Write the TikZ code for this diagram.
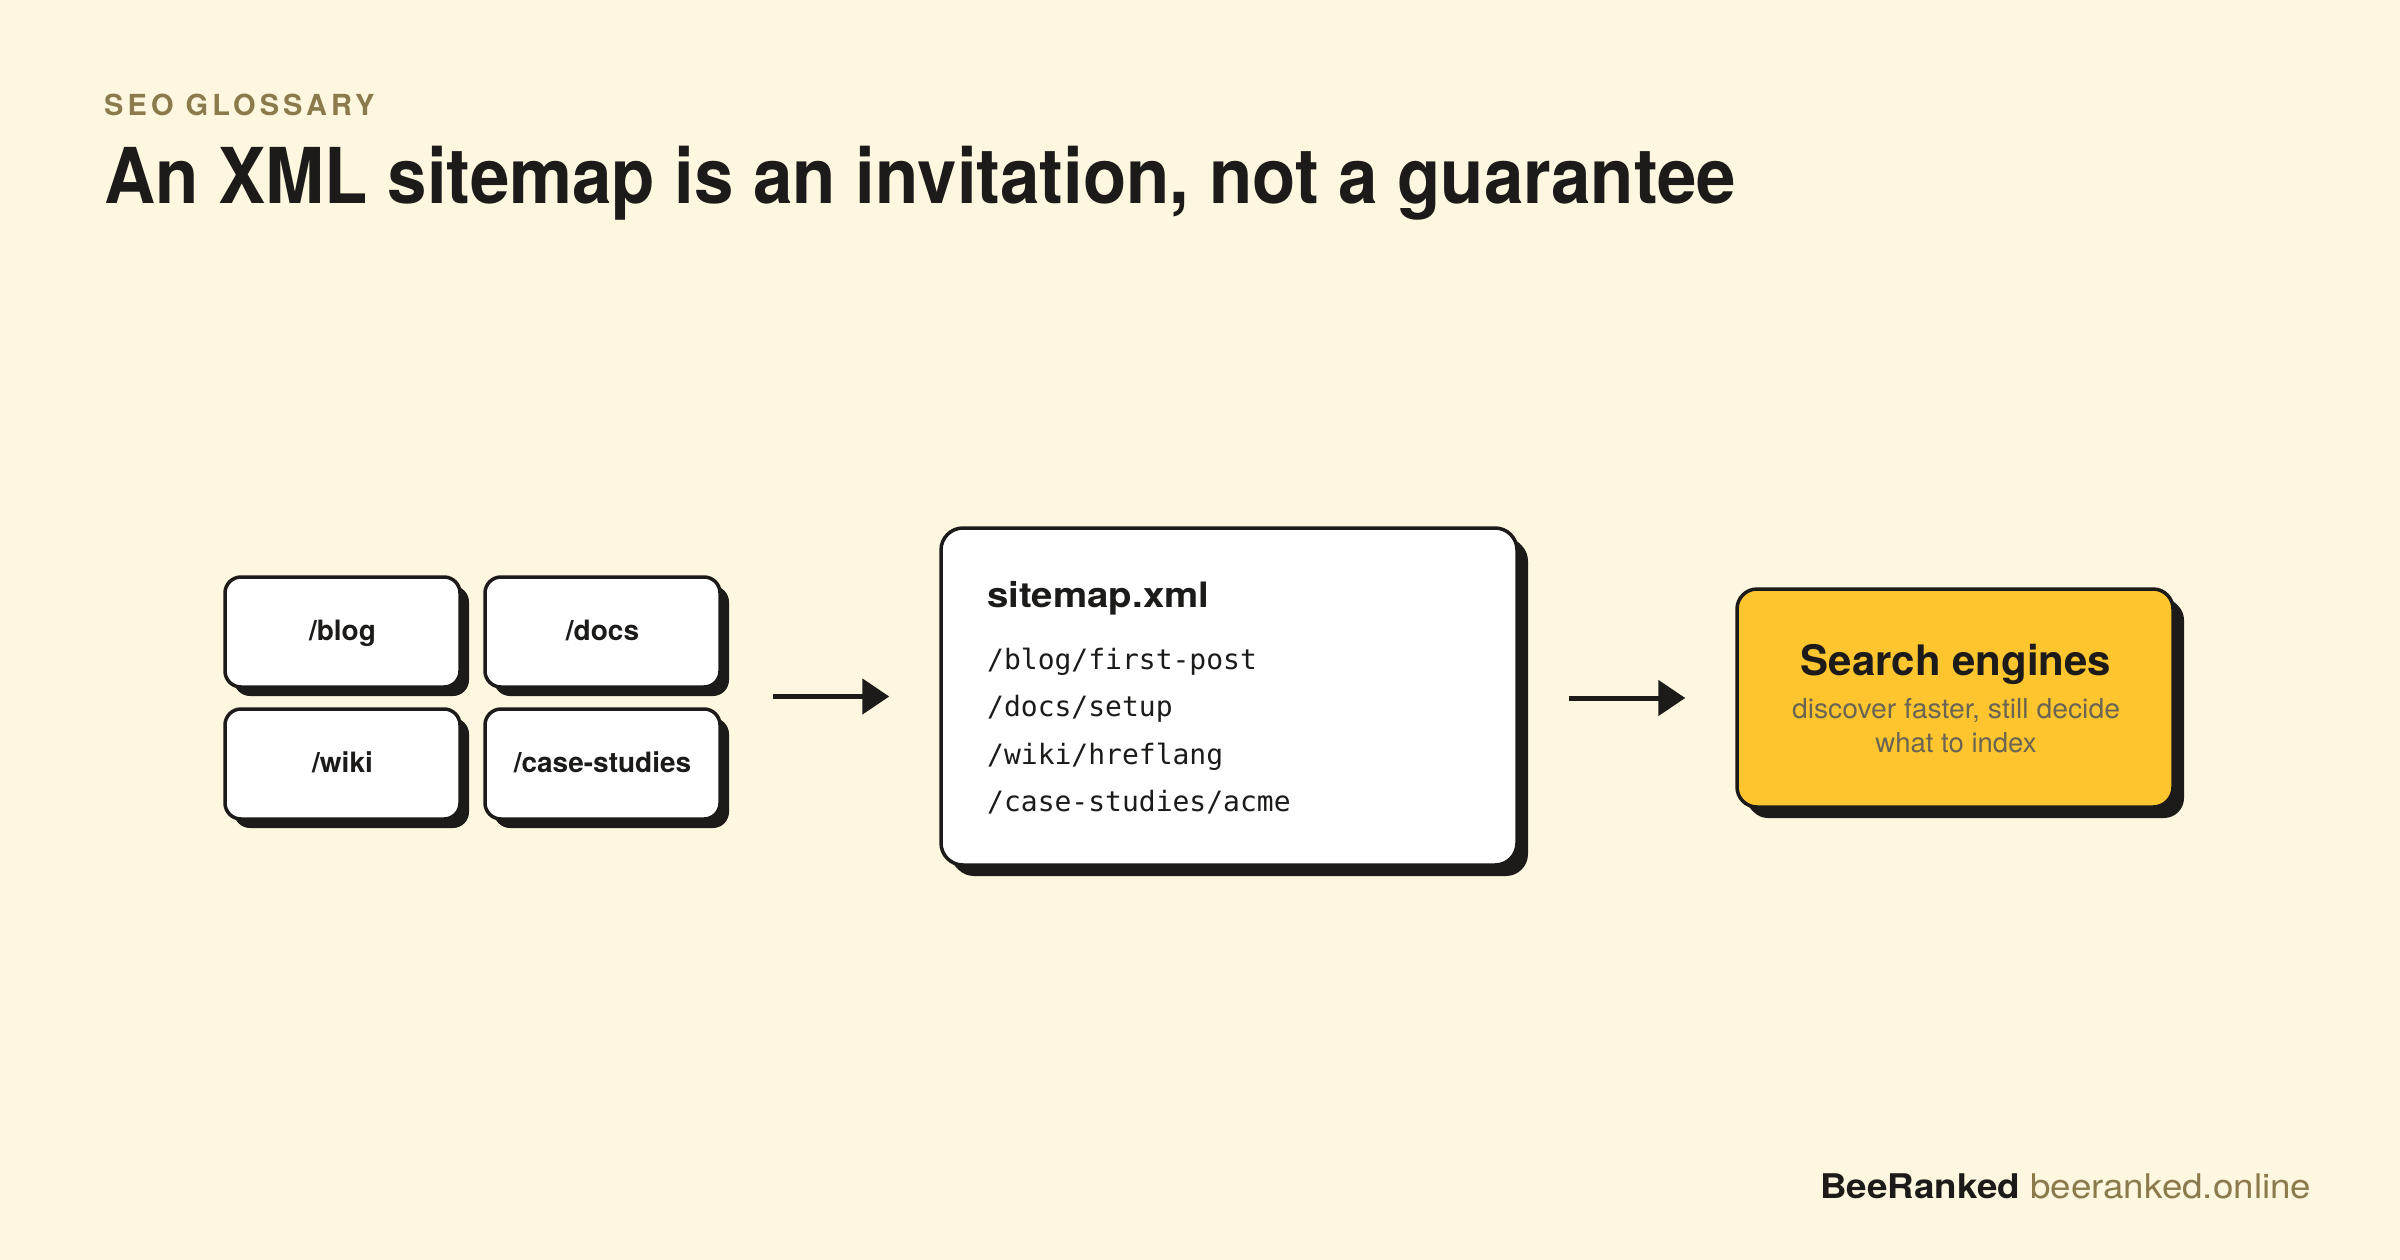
\documentclass[tikz,border=0pt]{standalone}
\usepackage{fontspec}
\usepackage{graphicx}
\setmainfont{TeX Gyre Heros}
\newfontfamily\monof{DejaVu Sans Mono}
\usetikzlibrary{arrows.meta,shadows,fit,calc}
\definecolor{bg}{HTML}{FEF7E0}
\definecolor{dark}{HTML}{1C1B19}
\definecolor{olive}{HTML}{8A7A4C}
\definecolor{beeyellow}{HTML}{FEC52E}
\definecolor{subgray}{HTML}{6A6552}
\tikzset{
  tile/.style={draw=dark, line width=3.5pt, fill=white, rounded corners=16pt, inner sep=0pt,
    general shadow={fill=dark, shadow xshift=9pt, shadow yshift=-9pt}},
  bigtile/.style={tile, rounded corners=22pt,
    general shadow={fill=dark, shadow xshift=11pt, shadow yshift=-11pt}},
  tiletext/.style={font=\fontsize{28}{28}\selectfont\bfseries, text=dark, text height=20pt, text depth=4pt},
  lbl/.style={inner sep=0pt, anchor=base west, text=dark},
  arr/.style={draw=dark, line width=5pt, -{Triangle[length=27pt,width=35pt]}}
}
\begin{document}
\begin{tikzpicture}[x=1pt,y=-1pt]
\fill[bg] (0,0) rectangle (2400,1260);
\useasboundingbox (0,0) rectangle (2400,1260);

% header
\node[lbl, text=olive, font=\fontsize{29}{29}\selectfont\bfseries\addfontfeatures{LetterSpace=14}] (kicker) at (104,116) {SEO GLOSSARY};
\node[lbl, font=\fontsize{77}{77}\selectfont\bfseries] (title) at (104,204) {\resizebox{1632pt}{\height}{An XML sitemap is an invitation, not a guarantee}};

% section tiles
\node[tile, tiletext, minimum width=235pt, minimum height=110pt] (blog) at (342.5,632) {/blog};
\node[tile, tiletext, minimum width=235pt, minimum height=110pt] (docs) at (602.5,632) {/docs};
\node[tile, tiletext, minimum width=235pt, minimum height=110pt] (wiki) at (342.5,764) {/wiki};
\node[tile, tiletext, minimum width=235pt, minimum height=110pt] (case) at (602.5,764) {/case-studies};
\node[fit=(blog)(docs)(wiki)(case), inner sep=0pt] (grp) {};

% sitemap
\node[bigtile, minimum width=576pt, minimum height=337pt] (sm) at (1229,696.5) {};
\node[lbl, font=\fontsize{35}{35}\selectfont\bfseries] (smt) at (987,607) {\resizebox{222pt}{\height}{sitemap.xml}};
\node[lbl, font=\monof\fontsize{28}{28}\selectfont] (l1) at (987,669) {/blog/first-post};
\node[lbl, font=\monof\fontsize{28}{28}\selectfont] (l2) at (987,716.5) {/docs/setup};
\node[lbl, font=\monof\fontsize{28}{28}\selectfont] (l3) at (987,764) {/wiki/hreflang};
\node[lbl, font=\monof\fontsize{28}{28}\selectfont] (l4) at (987,811.5) {/case-studies/acme};

% search engines
\node[bigtile, fill=beeyellow, rounded corners=20pt, minimum width=436pt, minimum height=218pt] (se) at (1955,698) {};
\node[inner sep=0pt, anchor=base, text=dark, font=\fontsize{42}{42}\selectfont\bfseries] (set) at (1956,675) {Search engines};
\node[inner sep=0pt, anchor=base, text=subgray, font=\fontsize{27.5}{27.5}\selectfont] (ses1) at (1956,718) {\resizebox{328pt}{\height}{discover faster, still decide}};
\node[inner sep=0pt, anchor=base, text=subgray, font=\fontsize{27.5}{27.5}\selectfont] (ses2) at (1956,752) {what to index};

% connectors
\draw[arr, shorten <=51pt, shorten >=50pt] (grp.east |- sm.west) -- (sm.west);
\draw[arr, shorten <=50pt, shorten >=50pt] (sm.east |- se.west) -- (se.west);

% footer
\node[lbl, font=\fontsize{34}{34}\selectfont] (foot) at (1820,1198) {\resizebox{491pt}{\height}{{\bfseries BeeRanked} \textcolor{olive}{beeranked.online}}};
\end{tikzpicture}
\end{document}
